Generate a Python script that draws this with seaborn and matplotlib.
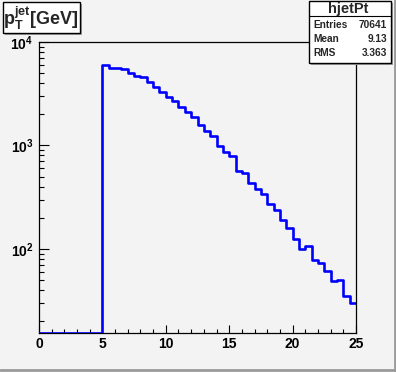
import numpy as np
import pandas as pd
import seaborn as sns
import matplotlib.pyplot as plt
from matplotlib.patches import Rectangle
from matplotlib.lines import Line2D
from matplotlib.ticker import MultipleLocator, LogLocator, FixedLocator, FixedFormatter, NullFormatter

# histogram hjetPt: 50 bins of 0.5 GeV from 0 to 25
n_bins = 50
x_range = (0, 25)
counts = [0, 0, 0, 0, 0, 0, 0, 0, 0, 0,
          5957, 5570, 5570, 5445, 5012, 4720, 4590, 4110, 3650, 3265,
          2940, 2675, 2355, 2107, 1872, 1567, 1390, 1236, 989, 865,
          792, 571, 539, 434, 377, 336, 271, 238, 189, 158,
          124, 100, 107, 78, 73, 61, 49, 50, 35, 30]
hist_name = "hjetPt"
stat_names = ["Entries", "Mean", "RMS"]
stat_values = ["70641", "9.13", "3.363"]
x_ticks = [0, 5, 10, 15, 20, 25]
y_ticks = [100, 1000, 10000]
y_ticklabels = [r"$\mathbf{10^{2}}$", r"$\mathbf{10^{3}}$", r"$\mathbf{10^{4}}$"]

sns.set_theme(style="ticks")
bg = "#f3f3f3"
plt.rcParams["font.family"] = ["Liberation Sans", "DejaVu Sans"]
plt.rcParams["font.weight"] = "bold"
plt.rcParams["mathtext.fontset"] = "custom"
plt.rcParams["mathtext.rm"] = "Liberation Sans:bold"
plt.rcParams["mathtext.bf"] = "Liberation Sans:bold"
plt.rcParams["mathtext.it"] = "Liberation Sans:bold"

W, H = 396, 372
fig = plt.figure(figsize=(3.96, 3.72), dpi=100, facecolor=bg)
ax = fig.add_axes([39 / W, 39 / H, 317 / W, 291 / H])
ax.set_facecolor(bg)

y_floor = 15.4
width = (x_range[1] - x_range[0]) / n_bins
centers = x_range[0] + width * (np.arange(n_bins) + 0.5)
# ROOT draws empty bins at the frame floor
df = pd.DataFrame({"pt": centers,
                   "n": np.where(np.array(counts) > 0, counts, y_floor)})
sns.histplot(data=df, x="pt", weights="n", bins=n_bins, binrange=x_range,
             element="step", fill=False, color="#0000ff", linewidth=1.9, ax=ax)
for ln in ax.lines:
    ln.set_zorder(3)
ax.set_yscale("log")
ax.set_xlim(*x_range)
ax.set_ylim(y_floor, 10000)
ax.set_xlabel("")
ax.set_ylabel("")

ax.xaxis.set_major_locator(FixedLocator(x_ticks))
ax.xaxis.set_minor_locator(MultipleLocator(1))
ax.yaxis.set_major_locator(FixedLocator(y_ticks))
ax.yaxis.set_major_formatter(FixedFormatter(y_ticklabels))
ax.yaxis.set_minor_locator(LogLocator(base=10, subs=np.arange(2, 10)))
ax.yaxis.set_minor_formatter(NullFormatter())
ax.tick_params(which="both", direction="in", color="black", width=0.8,
               labelsize=10, labelcolor="black")
ax.tick_params(axis="x", which="major", length=6, pad=3)
ax.tick_params(axis="x", which="minor", length=3)
ax.tick_params(axis="y", which="major", length=7, pad=4)
ax.tick_params(axis="y", which="minor", length=3.5)
for sp in ax.spines.values():
    sp.set_visible(True)
    sp.set_color("black")
    sp.set_linewidth(0.9)


def box(x0, y0, x1, y1):
    # white ROOT pave with grey drop shadow, pixel coords from the top-left
    fig.patches.append(Rectangle(((x0 + 2) / W, 1 - (y1 + 2) / H), (x1 - x0) / W,
                                 (y1 - y0) / H, transform=fig.transFigure,
                                 facecolor="#a0a0a0", edgecolor="none", zorder=5))
    fig.patches.append(Rectangle((x0 / W, 1 - y1 / H), (x1 - x0) / W,
                                 (y1 - y0) / H, transform=fig.transFigure,
                                 facecolor="white", edgecolor="black",
                                 linewidth=1, zorder=6))


# title box
box(3, 2, 80, 33)
fig.text(41 / W, 1 - 18 / H, r"$\mathbf{p_{T}^{jet}[GeV]}$", ha="center",
         va="center", fontsize=13, zorder=7)

# stats box
box(309, 1, 391, 63)
fig.lines.append(Line2D([309 / W, 391 / W], [1 - 16 / H, 1 - 16 / H],
                        transform=fig.transFigure, color="black",
                        linewidth=0.8, zorder=7))
fig.text(348 / W, 1 - 9 / H, hist_name, ha="center", va="center",
         fontsize=10.5, zorder=7)
for i, (nm, val) in enumerate(zip(stat_names, stat_values)):
    yy = 1 - (25 + 14 * i) / H
    fig.text(313 / W, yy, nm, ha="left", va="center", fontsize=7.3, zorder=7)
    fig.text(387 / W, yy, val, ha="right", va="center", fontsize=7.3, zorder=7)

# canvas shadow border
fig.lines.append(Line2D([394.5 / W, 394.5 / W], [0, 1], transform=fig.transFigure,
                        color="#9a9a9a", linewidth=2))
fig.lines.append(Line2D([0, 1], [2 / H, 2 / H], transform=fig.transFigure,
                        color="#9a9a9a", linewidth=2))

fig.savefig("out.png", dpi=100, facecolor=bg)
